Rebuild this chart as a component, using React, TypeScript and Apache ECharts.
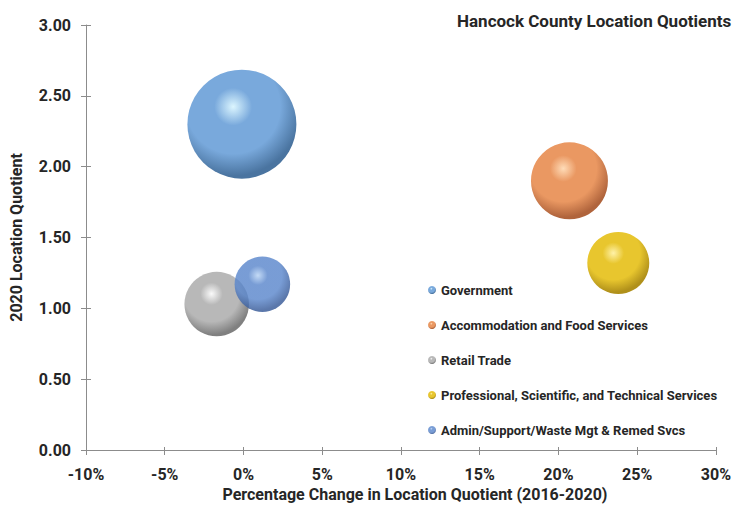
import React, { useEffect, useRef } from "react";
import * as echarts from "echarts";

const categories = [
  "Government",
  "Accommodation and Food Services",
  "Retail Trade",
  "Professional, Scientific, and Technical Services",
  "Admin/Support/Waste Mgt & Remed Svcs",
];
// Percentage change in location quotient 2016-2020 (%)
const pctChange = [-0.1, 20.7, -1.7, 23.8, 1.2];
// 2020 location quotient
const lq2020 = [2.3, 1.9, 1.03, 1.32, 1.17];
// Bubble size values (relative)
const bubbleSize = [2970, 1480, 1040, 960, 770];

const xTicks = { min: -10, max: 30, interval: 5 };
const yTicks = { min: 0, max: 3, interval: 0.5 };

const palette = [
  { hi: "#dcf6ff", mid: "#79a9dc", dark: "#4a74a0" },
  { hi: "#ffdcb8", mid: "#ea9862", dark: "#b0643c" },
  { hi: "#fafafa", mid: "#b8b8b8", dark: "#808080" },
  { hi: "#fff2a8", mid: "#e8c62e", dark: "#b0901a" },
  { hi: "#b6d2f4", mid: "#5b87cc", dark: "#375a98" },
];

const FONT = "Roboto, 'Liberation Sans', sans-serif";
const TXT = "#262626";
const AXIS = "#8c8c8c";

function sphere(i: number) {
  const p = palette[i];
  return {
    type: "radial",
    x: 0.42,
    y: 0.34,
    r: 0.72,
    colorStops: [
      { offset: 0, color: p.hi },
      { offset: 0.24, color: p.mid },
      { offset: 0.6, color: p.mid },
      { offset: 0.88, color: p.dark },
      { offset: 1, color: p.dark },
    ],
  };
}

export default function App() {
  const ref = useRef<HTMLDivElement>(null);
  useEffect(() => {
    if (!ref.current) return;
    const chart = echarts.init(ref.current, undefined, { renderer: "svg" });
    const series = categories.map((name, i) => ({
      name,
      type: "scatter",
      data: [[pctChange[i], lq2020[i], bubbleSize[i]]],
      symbolSize: (v: number[]) => 2 * Math.sqrt(v[2]),
      itemStyle: {
        color: sphere(i),
        opacity: i === 4 ? 0.82 : 1,
      },
      emphasis: { disabled: true },
    }));
    const labelStyle = { fontFamily: FONT, fontSize: 16, fontWeight: "bold", color: TXT };
    chart.setOption({
      animation: false,
      textStyle: { fontFamily: FONT },
      title: {
        text: "Hancock County Location Quotients",
        left: 457,
        top: 12,
        padding: 0,
        textStyle: { fontFamily: FONT, fontSize: 17, fontWeight: "bold", color: TXT },
      },
      grid: { left: 83, right: 18, top: 25, bottom: 60 },
      legend: {
        orient: "vertical",
        left: 428,
        top: 283,
        padding: 0,
        itemGap: 21,
        itemWidth: 8,
        itemHeight: 8,
        icon: "circle",
        textStyle: {
          fontFamily: FONT,
          fontSize: 13,
          fontWeight: "bold",
          color: TXT,
          lineHeight: 14,
        },
        data: categories,
      },
      xAxis: [
        {
          type: "value",
          min: xTicks.min,
          max: xTicks.max,
          interval: xTicks.interval,
          position: "bottom",
          name: "Percentage Change in Location Quotient (2016-2020)",
          nameLocation: "middle",
          nameGap: 36,
          nameTextStyle: { ...labelStyle, padding: [0, 0, 0, 28] },
          axisLine: { show: true, onZero: false, lineStyle: { color: AXIS, width: 1 } },
          axisTick: { show: true, length: 5, lineStyle: { color: AXIS } },
          axisLabel: {
            formatter: (v: number) => `${v}%`,
            ...labelStyle,
            margin: 16,
          },
          splitLine: { show: false },
        },
        {
          type: "value",
          min: xTicks.min,
          max: xTicks.max,
          interval: xTicks.interval,
          position: "bottom",
          axisLine: { show: false, onZero: false },
          axisTick: { show: true, inside: true, length: 3, lineStyle: { color: AXIS } },
          axisLabel: { show: false },
          splitLine: { show: false },
        },
      ],
      yAxis: [
        {
          type: "value",
          min: yTicks.min,
          max: yTicks.max,
          interval: yTicks.interval,
          position: "left",
          name: "2020 Location Quotient",
          nameLocation: "middle",
          nameGap: 62,
          nameTextStyle: labelStyle,
          axisLine: { show: true, onZero: false, lineStyle: { color: AXIS, width: 1 } },
          axisTick: { show: true, length: 5, lineStyle: { color: AXIS } },
          axisLabel: {
            formatter: (v: number) => v.toFixed(2),
            ...labelStyle,
            margin: 15,
          },
          splitLine: { show: false },
        },
        {
          type: "value",
          min: yTicks.min,
          max: yTicks.max,
          interval: yTicks.interval,
          position: "left",
          axisLine: { show: false, onZero: false },
          axisTick: { show: true, inside: true, length: 5, lineStyle: { color: AXIS } },
          axisLabel: { show: false },
          splitLine: { show: false },
        },
      ],
      series,
    });
    return () => chart.dispose();
  }, []);
  return (
    <div
      ref={ref}
      style={{ position: "fixed", left: 0, top: 0, width: 734, height: 510, background: "#fff" }}
    />
  );
}
